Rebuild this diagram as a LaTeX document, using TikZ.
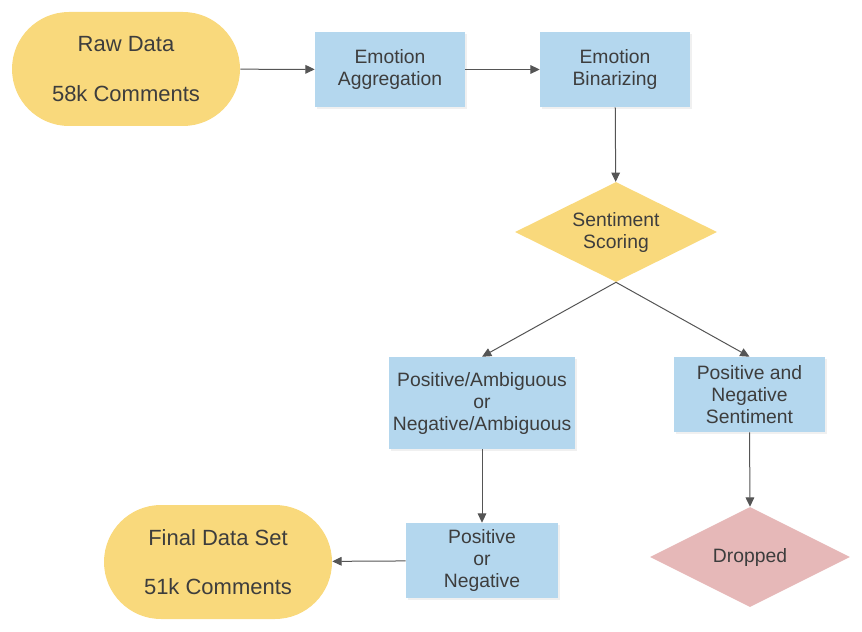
\documentclass[tikz,border=0pt]{standalone}
\usepackage{fontspec}
\setmainfont{Liberation Sans}
\usepackage{xcolor}
\usepackage{tikz}
\usetikzlibrary{arrows.meta,calc,positioning,shapes.geometric,shadows}
\definecolor{pill}{HTML}{F9D97C}
\definecolor{stage}{HTML}{B4D7EE}
\definecolor{drop}{HTML}{E6B8B8}
\definecolor{ink}{HTML}{3D3D3D}
\definecolor{wire}{HTML}{555555}

\begin{document}
\begin{tikzpicture}[
    x=0.75pt,y=-0.75pt,
    font=\fontsize{14.5}{16.5}\selectfont,text=ink,
    terminal/.style={fill=pill,rounded corners=42.75pt,minimum width=171pt,
                     minimum height=85.5pt,align=center,inner sep=0pt,
                     font=\fontsize{16.5}{18.5}\selectfont},
    stagebox/.style={fill=stage,minimum width=112.5pt,minimum height=56.25pt,
                     align=center,inner sep=0pt,
                     drop shadow={shadow xshift=1.2pt,shadow yshift=-1.2pt,opacity=0.12}},
    decision/.style={diamond,shape aspect=2,fill=pill,minimum width=151.5pt,
                     minimum height=75pt,align=center,inner sep=0pt},
    flow/.style={-{Triangle[length=7pt,width=6.5pt]},wire,line width=0.75pt}
  ]
    \useasboundingbox (0,0) rectangle (862,631);
    \node[terminal] (raw) at (126,69) {Raw Data\\[18.75pt]58k Comments};
    \node[stagebox] (agg) at (390,69.5) {Emotion\\Aggregation};
    \node[stagebox] (bin) at (615,69.5) {Emotion\\Binarizing};
    \node[decision] (score) at (616,232) {Sentiment\\Scoring};
    \node[stagebox,minimum width=139.5pt,minimum height=69pt] (amb) at (482,403)
      {Positive/Ambiguous\\or\\Negative/Ambiguous};
    \node[stagebox,minimum width=113.25pt] (mixed) at (749.5,394.5)
      {Positive and\\Negative\\Sentiment};
    \node[stagebox,minimum width=114pt] (posneg) at (482,560.5) {Positive\\or\\Negative};
    \node[terminal] (final) at (218,562) {Final Data Set\\[18.75pt]51k Comments};
    \node[decision,fill=drop,minimum width=150pt] (dropped) at (750,557) {Dropped};
    \draw[flow] (raw) -- (agg);
    \draw[flow] (agg) -- (bin);
    \draw[flow] (bin) -- (score);
    \draw[flow] (score.south) -- (amb.north);
    \draw[flow] (score.south) -- (mixed.north);
    \draw[flow] (amb) -- (posneg);
    \draw[flow] (mixed.south) -- (dropped.north);
    \draw[flow] (posneg) -- (final);
  \end{tikzpicture}
\end{document}
